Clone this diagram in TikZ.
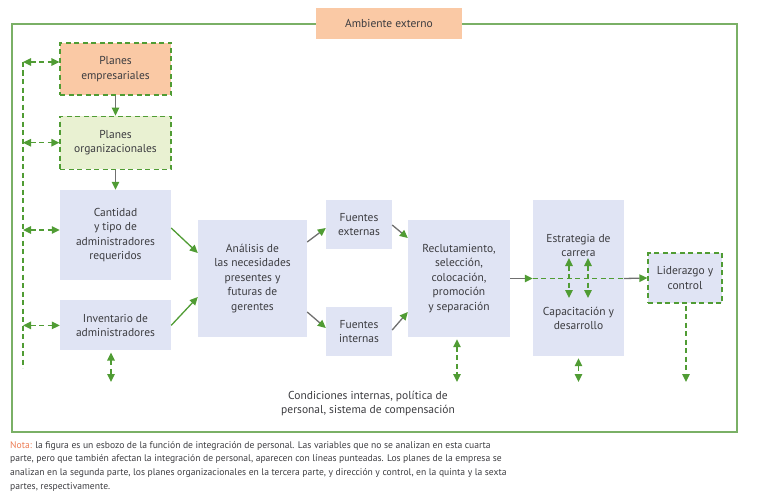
\documentclass[tikz,border=0pt]{standalone}
\usepackage{fontspec}
\setmainfont{PT Sans}
\usetikzlibrary{positioning, arrows.meta, calc}
\definecolor{ink}{RGB}{60,60,64}
\definecolor{leaf}{RGB}{80,156,52}
\definecolor{framegreen}{RGB}{122,176,102}
\definecolor{peach}{RGB}{250,201,165}
\definecolor{sprout}{RGB}{233,241,210}
\definecolor{lilac}{RGB}{224,228,244}
\definecolor{wire}{RGB}{112,112,112}
\definecolor{notecol}{RGB}{236,124,84}

\begin{document}
\begin{tikzpicture}[x=1pt, y=-1pt,
    blk/.style={fill=lilac, text=ink, font=\fontsize{11.5}{14.5}\selectfont, align=center, inner sep=2pt},
    plan/.style={blk, draw=leaf, line width=1.2pt, dash pattern=on 5pt off 3.5pt},
    tag/.style={text=ink, font=\fontsize{11.5}{14}\selectfont, align=center, inner sep=0pt},
    ed/.style={-{Triangle[length=8pt,width=7.5pt]}, draw=leaf, line width=1.3pt},
    edg/.style={-{Triangle[length=8pt,width=7.5pt,color=leaf]}, draw=wire, line width=1.3pt},
    dline/.style={draw=leaf, line width=1.3pt, dash pattern=on 5pt off 3.5pt},
    dd/.style={dline, {Triangle[length=8pt,width=7.5pt]}-{Triangle[length=8pt,width=7.5pt]}},
    dd1/.style={dline, -{Triangle[length=8pt,width=7.5pt]}}
  ]
  \useasboundingbox (0,0) rectangle (760,503);
  % ---------------- frame ----------------
  \draw[framegreen, line width=1.3pt] (12,24) rectangle (737,432);
  \node[blk, fill=peach, minimum width=146pt, minimum height=31pt] (amb) at (389,23.5) {Ambiente externo};

  % ---------------- left column ----------------
  \node[plan, fill=peach, minimum width=111pt, minimum height=52pt] (pe) at (115.5,69) {Planes\\empresariales};
  \node[plan, fill=sprout, minimum width=111pt, minimum height=53pt, below=20pt of pe] (po) {Planes\\organizacionales};
  \node[blk, minimum width=111pt, minimum height=90pt, below=20pt of po] (cant) {Cantidad\\y tipo de\\administradores\\requeridos};
  \node[blk, minimum width=111pt, minimum height=50pt, below=20pt of cant] (inv) {Inventario de\\administradores};

  % ---------------- middle ----------------
  \node[blk, minimum width=109pt, minimum height=117pt] (ana) at (252.5,278.5) {Análisis de\\las necesidades\\presentes y\\futuras de\\gerentes};
  \node[blk, minimum width=66pt, minimum height=49pt] (fe) at (359,224.5) {Fuentes\\externas};
  \node[blk, minimum width=66pt, minimum height=49pt] (fi) at (359,331.5) {Fuentes\\internas};
  \node[blk, minimum width=102pt, minimum height=117pt] (recl) at (459,278.5) {Reclutamiento,\\selección,\\colocación,\\promoción\\y separación};

  % ---------------- right ----------------
  \node[blk, minimum width=91pt, minimum height=156pt] (car) at (578.5,278) {};
  \node[tag] (est) at (578.5,245) {Estrategia de\\carrera};
  \node[tag] (cap) at (578.5,318) {Capacitación y\\desarrollo};
  \node[plan, minimum width=74pt, minimum height=50pt] (lid) at (685,278) {Liderazgo y\\control};

  \node[tag] (cond) at (368,404) {Condiciones internas, política de\\personal, sistema de compensación};

  % ---------------- connectors ----------------
  \draw[edg] (pe) -- (po);
  \draw[edg] (po) -- (cant);
  \draw[ed] (cant.east |- 0,228) -- (ana.west |- 0,253);
  \draw[ed] (inv.east) -- (ana.west |- 0,297);
  \draw[edg] (ana.east |- 0,242) -- (fe.west |- 0,228);
  \draw[edg] (ana.east |- 0,312) -- (fi.west |- 0,328);
  \draw[edg] (fe.east |- 0,225) -- (recl.west |- 0,238);
  \draw[edg] (fi.east |- 0,330) -- (recl.west |- 0,312);
  \draw[edg] (recl.east) -- (recl.east -| car.west);
  \draw[dline] (recl.east -| car.west) -- (recl.east -| car.east);
  \draw[edg] (recl.east -| car.east) -- (lid.west);

  % left bus
  \coordinate (bustop) at (23,62);
  \coordinate (busbot) at (23,368);
  \draw[dline] (bustop) -- (busbot);
  \draw[dd] (bustop) -- (bustop -| pe.west);
  \draw[dd] (bustop |- po.west) -- (po.west);
  \draw[dd] (bustop |- 0,230) -- (cant.west |- 0,230);
  \draw[dd] (bustop |- inv.west) -- (inv.west);

  % career links
  \coordinate (ka) at (569,258);
  \coordinate (kb) at (588,258);
  \draw[dd] (ka) -- (569,298);
  \draw[dd] (kb) -- (588,298);

  % to the internal conditions
  \coordinate (floor) at (0,382);
  \draw[dd] ([xshift=-4.5pt, yshift=-2pt]inv.south) -- ([xshift=-4.5pt]inv.south |- floor);
  \draw[dd] ([xshift=-2pt, yshift=-2pt]recl.south) -- ([xshift=-2pt]recl.south |- floor);
  \draw[dd] ([yshift=-2pt]car.south) -- (car.south |- floor);
  \draw[dd1] ([xshift=1pt, yshift=-2pt]lid.south) -- ([xshift=1pt]lid.south |- floor);

  % ---------------- note ----------------
  \node[anchor=north west, align=left, inner sep=0pt, text=ink, font=\fontsize{9.6}{13.8}\selectfont] (nota) at (10,441)
    {\textcolor{notecol}{Nota:} la figura es un esbozo de la función de integración de personal. Las variables que no se analizan en esta cuarta\\
     parte, pero que también afectan la integración de personal, aparecen con líneas punteadas. Los planes de la empresa se\\
     analizan en la segunda parte, los planes organizacionales en la tercera parte, y dirección y control, en la quinta y la sexta\\
     partes, respectivamente.};
\end{tikzpicture}
\end{document}
